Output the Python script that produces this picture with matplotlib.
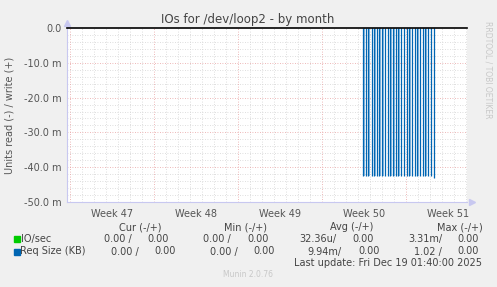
import matplotlib
matplotlib.use("Agg")
from matplotlib import pyplot as plt
import numpy as np

# time in days from the Monday that starts week 47
spike_days = [24.44, 24.67, 24.86, 25.14, 25.36, 25.58, 25.78, 26.03, 26.25,
              26.47, 26.69, 26.94, 27.14, 27.36, 27.58, 27.81, 28.06, 28.28,
              28.50, 28.72, 28.94, 29.17, 29.39, 29.61, 29.83, 30.08, 30.31]
spike_depth = [-42.5e-3] * 26 + [-43.0e-3]

week_labels = ["Week 47", "Week 48", "Week 49", "Week 50", "Week 51"]
week_starts = [0, 7, 14, 21, 28]
ytick_vals = [0.0, -0.01, -0.02, -0.03, -0.04, -0.05]
ytick_labels = ["0.0", "-10.0 m", "-20.0 m", "-30.0 m", "-40.0 m", "-50.0 m"]

legend_names = ["IO/sec", "Req Size (KB)"]
legend_colors = ["#00cc00", "#0066b3"]
cur_vals = [("0.00 /", "0.00"), ("0.00 /", "0.00")]
min_vals = [("0.00 /", "0.00"), ("0.00 /", "0.00")]
avg_vals = [("32.36u/", "0.00"), ("9.94m/", "0.00")]
max_vals = [("3.31m/", "0.00"), ("1.02 /", "0.00")]

W, H = 497, 287
fig = plt.figure(figsize=(W / 100, H / 100), dpi=100)
fig.patch.set_facecolor("#f0f0f0")
ax = fig.add_axes([67 / W, 1 - 202 / H, 400 / W, 174 / H])
ax.set_facecolor("white")

ax.set_xlim(-0.25, 33.08)
ax.set_ylim(-0.05, 0.0)

# grid
for d in range(0, 34):
    if d in week_starts:
        continue
    ax.axvline(d, color="#d4d4d4", lw=0.6, ls=(0, (1, 2)), zorder=1)
for v in np.arange(-0.048, 0.0, 0.002):
    if abs(round(v * 1000) % 10) == 0:
        continue
    ax.axhline(v, color="#d4d4d4", lw=0.6, ls=(0, (1, 2)), zorder=1)
for d in week_starts:
    ax.axvline(d, color="#e8a0a0", lw=0.6, ls=(0, (1, 2)), zorder=1)
for v in ytick_vals[1:-1]:
    ax.axhline(v, color="#e8a0a0", lw=0.6, ls=(0, (1, 2)), zorder=1)

# data
for d, v in zip(spike_days, spike_depth):
    ax.bar(d + 0.04, v, width=0.07, align="edge", color="#8cbbe0", lw=0, zorder=2)
ax.vlines(spike_days, spike_depth, 0, color="#0066b3", lw=0.9, zorder=3)
ax.axhline(0, color="black", lw=1.2, zorder=4, clip_on=False)

# axes look
for s in ["top", "right"]:
    ax.spines[s].set_visible(False)
for s in ["left", "bottom"]:
    ax.spines[s].set_color("#c8c8f0")
    ax.spines[s].set_linewidth(0.8)
ax.plot([0], [1.03], marker="^", color="#c8c8f0", ms=4, transform=ax.transAxes, clip_on=False)
ax.plot([1.013], [0], marker=">", color="#c8c8f0", ms=4, transform=ax.transAxes, clip_on=False)

ax.set_yticks(ytick_vals)
ax.set_yticklabels(ytick_labels)
ax.set_xticks([w + 3.5 for w in week_starts])
ax.set_xticklabels(week_labels)
ax.tick_params(axis="both", labelsize=7, colors="#555555", length=0, pad=4)
ax.tick_params(axis="x", pad=5)

fig.text(248 / W, 1 - 20 / H, "IOs for /dev/loop2 - by month", ha="center",
         va="center", fontsize=8.5, color="#444444")
fig.text(10 / W, 1 - 115 / H, "Units read (-) / write (+)", rotation=90,
         ha="center", va="center", fontsize=7, color="#555555")
fig.text(488 / W, 1 - 70 / H, "RRDTOOL / TOBI OETIKER", rotation=270,
         ha="center", va="center", fontsize=5.5, color="#c8c8c8")

# legend table
tc = "#444444"
fs = 7
def t(x, y, s, ha="right", color=tc, size=fs):
    fig.text(x / W, 1 - y / H, s, ha=ha, va="center", fontsize=size, color=color)

t(140, 227, "Cur (-/+)", ha="center")
t(246, 227, "Min (-/+)", ha="center")
t(352, 227, "Avg (-/+)", ha="center")
t(460, 227, "Max (-/+)", ha="center")

rows_y = [239, 251.5]
cols_a = [[132, 169], [231, 269], [336, 374], [442, 479]]
cols_b = [[139, 176], [238, 275], [342, 380], [442, 479]]
for i, name in enumerate(legend_names):
    y = rows_y[i]
    fig.patches.append(plt.Rectangle((14 / W, 1 - (y + 3) / H), 5.5 / W, 6 / H,
                                     transform=fig.transFigure, color=legend_colors[i]))
    t(20.5, y, name, ha="left")
    cols = cols_a if i == 0 else cols_b
    for c, vals in zip(cols, [cur_vals, min_vals, avg_vals, max_vals]):
        t(c[0], y, vals[i][0])
        t(c[1], y, vals[i][1])

t(482, 263.5, "Last update: Fri Dec 19 01:40:00 2025")
t(248, 274.5, "Munin 2.0.76", ha="center", color="#c8c8c8", size=5.5)

fig.savefig("out.png", dpi=100, facecolor=fig.get_facecolor())
